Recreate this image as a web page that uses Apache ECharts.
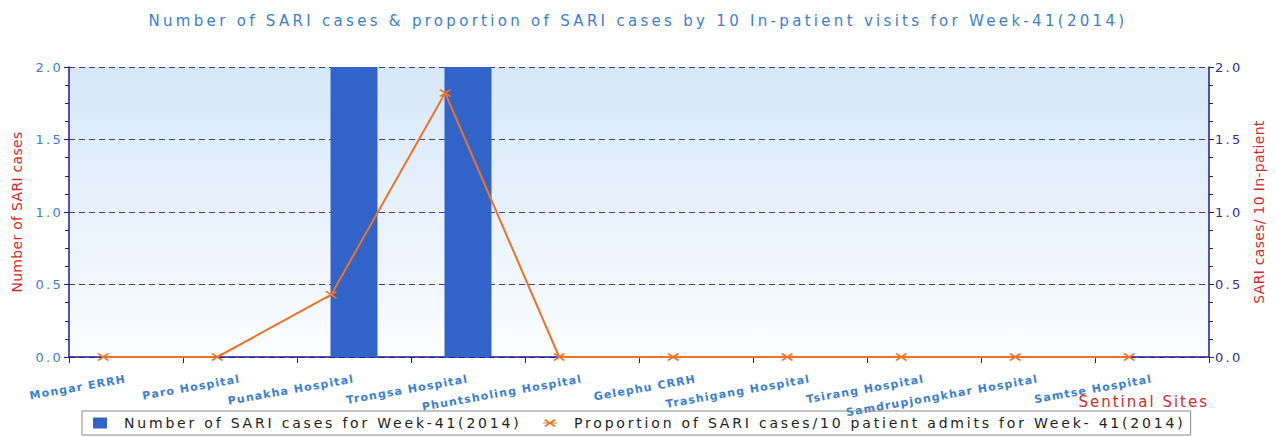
<!DOCTYPE html>
<html>
<head>
    <meta charset="utf-8">
    <title>SARI Week-41(2014)</title>
    <script src="https://cdn.jsdelivr.net/npm/echarts@6/dist/echarts.min.js"></script>
    <style>
        html, body {margin: 0; padding: 0; background: #fff;}
        #main {width: 1276px; height: 437px;}
    </style>
</head>
<body>
<div id="main"></div>
<script>
    // 哨点医院
    var sites = ['Mongar ERRH', 'Paro Hospital', 'Punakha Hospital', 'Trongsa Hospital',
        'Phuntsholing Hospital', 'Gelephu CRRH', 'Trashigang Hospital', 'Tsirang Hospital',
        'Samdrupjongkhar Hospital', 'Samtse Hospital'];
    // SARI 病例数
    var sariCases = [0, 0, 2, 2, 0, 0, 0, 0, 0, 0];
    // 每10住院病人 SARI 比例
    var sariProportion = [0, 0, 0.43, 1.82, 0, 0, 0, 0, 0, 0];
    var yTicks = [0, 0.5, 1.0, 1.5, 2.0];

    var barName = 'Number of SARI cases for Week-41(2014)';
    var lineName = 'Proportion of SARI cases/10 patient admits for Week- 41(2014)';
    var leftName = 'Number of SARI cases';
    var rightName = 'SARI cases/ 10 In-patient';
    var xName = 'Sentinal Sites';

    var FONT = 'DejaVu Sans';
    var RED = '#d42a2a';
    var NAVY = '#1e1e8c';
    var crossIcon = 'path://M0,1L1.5,0L6,3L10.5,0L12,1L7.5,4L12,7L10.5,8L6,5L1.5,8L0,7L4.5,4Z';
    var legendCross = 'path://M0,3.4H14V4.6H0Z M1,1L2.5,0L7,3L11.5,0L13,1L8.5,4L13,7L11.5,8L7,5L2.5,8L1,7L5.5,4Z';
    // 折线点落在柱子左边缘
    var lineShift = -0.2;

    var lineData = [];
    for (var i = 0; i < sariProportion.length; i++) {
        lineData.push([i + lineShift, sariProportion[i]]);
    }

    var myChart = echarts.init(document.getElementById('main'), null, {renderer: 'svg'});

    function yAxisOf(pos, name, labelColor) {
        return {
            type: 'value',
            position: pos,
            min: yTicks[0],
            max: yTicks[yTicks.length - 1],
            interval: 0.5,
            name: name,
            nameLocation: 'middle',
            nameRotate: 90,
            nameGap: pos == 'left' ? 45 : 43,
            nameTextStyle: {color: RED, fontFamily: FONT, fontSize: 14},
            axisLine: {show: true, onZero: false, lineStyle: {color: NAVY, width: 1.5}},
            axisTick: {show: true, length: 5, lineStyle: {color: NAVY}},
            minorTick: {show: true, splitNumber: 4, length: 4, lineStyle: {color: NAVY}},
            axisLabel: {
                color: labelColor, fontFamily: FONT, fontSize: 13, margin: 6,
                formatter: function (v) { return v.toFixed(1); }
            },
            splitLine: {show: pos == 'left', lineStyle: {color: '#3a3aa8', type: [6, 4], width: 1}}
        };
    }

    var chartOption = {
        animation: false,
        title: {
            text: 'Number of SARI cases & proportion of SARI cases by 10 In-patient visits for Week-41(2014)',
            left: 'center',
            top: 8,
            textStyle: {color: '#3a7ed6', fontFamily: FONT, fontSize: 15, fontWeight: 'normal'}
        },
        legend: {
            bottom: 2,
            left: 82,
            borderColor: '#8a8a8a',
            borderWidth: 1,
            padding: [5, 176, 5, 11],
            itemGap: 128,
            itemWidth: 14,
            itemHeight: 11,
            textStyle: {color: '#222', fontFamily: FONT, fontSize: 14, padding: [0, 0, 0, 12]},
            data: [
                {name: barName, icon: 'rect'},
                {name: lineName, icon: legendCross}
            ]
        },
        grid: {
            left: 69, right: 67, top: 67, bottom: 80,
            show: true,
            borderWidth: 0,
            backgroundColor: {
                type: 'linear', x: 0, y: 0, x2: 0, y2: 1,
                colorStops: [{offset: 0, color: '#d6e7f9'}, {offset: 1, color: '#fbfdff'}]
            }
        },
        xAxis: [{
            type: 'category',
            data: sites,
            name: xName,
            nameLocation: 'end',
            nameGap: 0,
            nameTextStyle: {
                color: RED, fontFamily: FONT, fontSize: 15,
                align: 'right', verticalAlign: 'top', padding: [37, 0, 0, 0]
            },
            axisLine: {show: true, onZero: false, lineStyle: {color: NAVY, width: 1.5}},
            axisTick: {show: true, length: 6, lineStyle: {color: NAVY}},
            axisLabel: {
                interval: 0, rotate: 10, color: '#3a7ed6', fontFamily: FONT, fontSize: 11,
                fontWeight: 'bold', margin: 22
            },
            splitLine: {show: false}
        }, {
            type: 'value',
            min: -0.5,
            max: sites.length - 0.5,
            show: false
        }],
        yAxis: [
            yAxisOf('left', leftName, '#3a7ed6'),
            yAxisOf('right', rightName, '#2e2ea0')
        ],
        series: [{
            name: barName,
            type: 'bar',
            xAxisIndex: 0,
            yAxisIndex: 0,
            barWidth: 47,
            itemStyle: {color: '#3163c9'},
            data: sariCases
        }, {
            name: lineName,
            type: 'line',
            xAxisIndex: 1,
            yAxisIndex: 1,
            symbol: crossIcon,
            symbolSize: [12, 8],
            lineStyle: {color: '#ec7428', width: 2},
            itemStyle: {color: '#ec7428'},
            data: lineData
        }]
    };
    myChart.setOption(chartOption);

    // 原图文字字距较宽
    function widenText() {
        var texts = document.querySelectorAll('#main text');
        for (var k = 0; k < texts.length; k++) {
            var t = texts[k];
            var s = t.textContent;
            var fs = parseFloat(getComputedStyle(t).fontSize);
            var sp = 0;
            if (s == leftName || s == rightName) sp = 0.3;
            else if (s == xName) sp = 2.0;
            else if (fs >= 15) sp = 3.3;
            else if (fs >= 14) sp = 2.8;
            else if (fs >= 13) sp = 2.3;
            else sp = 1.2;
            t.setAttribute('letter-spacing', sp);
        }
    }
    widenText();
    myChart.on('finished', widenText);
</script>
</body>
</html>
